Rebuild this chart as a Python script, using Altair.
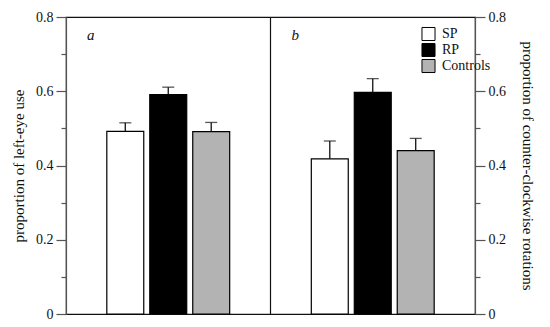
import altair as alt
import pandas as pd

groups = ["SP", "RP", "Controls"]
panels = ["a", "b"]
a_means = [0.492, 0.591, 0.491]
a_errs = [0.023, 0.020, 0.025]
b_means = [0.418, 0.597, 0.440]
b_errs = [0.048, 0.037, 0.033]
y_ticks = [0, 0.1, 0.2, 0.3, 0.4, 0.5, 0.6, 0.7, 0.8]
fills = ["#ffffff", "#000000", "#b3b3b3"]
titles = ["proportion of left-eye use", "proportion of counter-clockwise rotations"]

FONT = "Liberation Serif"
MAJOR = "round(datum.value*10) % 2 == 0"

rows = []
for p, means, errs in [(panels[0], a_means, a_errs), (panels[1], b_means, b_errs)]:
    for g, m, e in zip(groups, means, errs):
        rows.append({"panel": p, "group": g, "mean": m, "upper": m + e})
df = pd.DataFrame(rows)
lab_df = pd.DataFrame({"panel": panels})
div_df = pd.DataFrame({"panel": [panels[1]]})

xscale = alt.Scale(domain=panels, paddingInner=0, paddingOuter=0)
x = alt.X("panel:N", scale=xscale, axis=None)
xo = alt.XOffset("group:N", sort=groups,
                 scale=alt.Scale(domain=groups, paddingInner=0.14, paddingOuter=0.95))
yscale = alt.Scale(domain=[0, 0.8], nice=False, zero=True)


def yaxis(orient, title, pad):
    return alt.Axis(
        orient=orient, values=y_ticks, title=title, grid=False,
        tickSize={"condition": {"test": MAJOR, "value": 10}, "value": 5},
        labelExpr=MAJOR + " ? format(datum.value, '.1~f') : ''",
        labelPadding=3, labelFont=FONT, labelFontSize=14, labelColor="#111",
        titleFont=FONT, titleFontSize=15, titleFontWeight="normal",
        titleColor="#111", titlePadding=pad,
        domainColor="#555", tickColor="#555", domainWidth=1.2, tickWidth=1.2,
    )


legend = alt.Legend(
    title=None, orient="none", legendX=355, legendY=9, padding=0,
    symbolType="square", symbolSize=170, symbolStrokeColor="#000",
    symbolStrokeWidth=1, labelFont=FONT, labelFontSize=14,
    labelColor="#111", rowPadding=0, clipHeight=16, labelOffset=6,
    symbolOpacity=1, labelLimit=200,
)
fill = alt.Fill("group:N", sort=groups,
                scale=alt.Scale(domain=groups, range=fills), legend=legend)

base = alt.Chart(df)
bars = base.mark_bar(stroke="#000", strokeWidth=1.2, opacity=1).encode(
    x=x, xOffset=xo,
    y=alt.Y("mean:Q", scale=yscale, axis=yaxis("left", titles[0], 9)),
    fill=fill)
stems = base.mark_rule(color="#111", strokeWidth=1.3).encode(
    x=x, xOffset=xo,
    y=alt.Y("mean:Q", scale=yscale, axis=yaxis("right", titles[1], 14)),
    y2="upper:Q")
caps = base.mark_tick(color="#111", size=12, thickness=1.3).encode(
    x=x, xOffset=xo,
    y=alt.Y("upper:Q", scale=yscale, axis=None))
divider = alt.Chart(div_df).mark_rule(color="#111", strokeWidth=1.2).encode(
    x=alt.X("panel:N", scale=xscale, axis=None, bandPosition=0))
labels = alt.Chart(lab_df).mark_text(
    font=FONT, fontStyle="italic", fontSize=15, align="left", dx=21,
    baseline="alphabetic", color="#111").encode(
    x=alt.X("panel:N", scale=xscale, axis=None, bandPosition=0),
    y=alt.value(23), text="panel:N")

chart = alt.layer(bars, stems, caps, divider, labels).resolve_scale(
    y="shared").resolve_axis(y="independent").properties(
    width=409, height=297,
    padding={"left": 3, "top": 2, "right": 0, "bottom": 0},
    background="white").configure(font=FONT).configure_view(
    stroke="#111", strokeWidth=1.2)

chart.save("out.html", embed_options={"renderer": "svg", "actions": False})
